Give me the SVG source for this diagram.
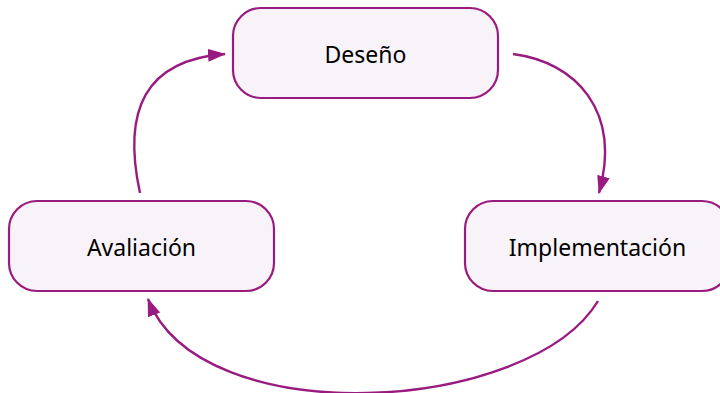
<svg xmlns="http://www.w3.org/2000/svg" width="720" height="393" viewBox="0 0 720 393">
<defs>
<style>
.box{fill:#f8f3f9;stroke:#9a1b80;stroke-width:2.2}
.lbl{font-family:"Noto Sans","Open Sans",sans-serif;font-size:23px;fill:#000;text-anchor:middle}
.con{fill:none;stroke:#9a1b80;stroke-width:2.4}
</style>
<marker id="ah" markerUnits="userSpaceOnUse" markerWidth="20" markerHeight="14" refX="17" refY="6.5" orient="auto">
<path d="M0,0 L18,6.5 L0,13 z" fill="#9a1b80"/>
</marker>
</defs>
<rect width="720" height="393" fill="#fff"/>
<g id="connectors">
<path class="con" d="M513,54 C575,62 622,110 599,193" marker-end="url(#ah)"/>
<path class="con" d="M598,301 C530,414 200,434 148,299" marker-end="url(#ah)"/>
<path class="con" d="M140,193 C122,110 145,60 225,54" marker-end="url(#ah)"/>
</g>
<g id="node-deseno">
<rect class="box" x="233" y="8" width="265" height="90" rx="28"/>
<text class="lbl" x="365.5" y="63">Deseño</text>
</g>
<g id="node-avaliacion">
<rect class="box" x="9" y="201" width="265" height="90" rx="28"/>
<text class="lbl" x="141.5" y="256">Avaliación</text>
</g>
<g id="node-implementacion">
<rect class="box" x="465" y="201" width="265" height="90" rx="28"/>
<text class="lbl" x="597.5" y="256">Implementación</text>
</g>
</svg>
